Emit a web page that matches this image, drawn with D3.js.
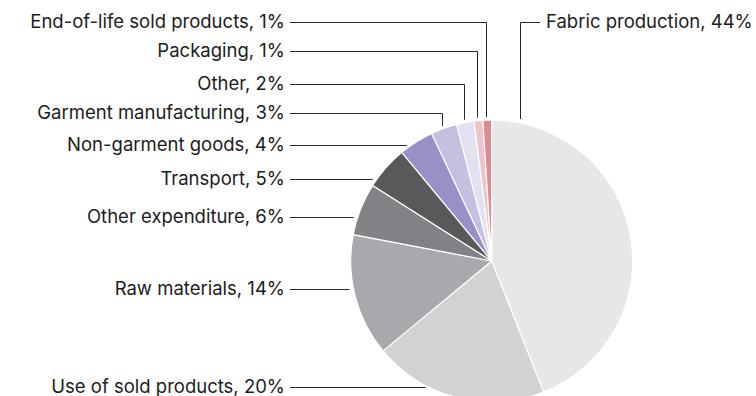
<!DOCTYPE html>
<html>
<head>
<meta charset="utf-8">
<script src="https://cdn.jsdelivr.net/npm/d3@7/dist/d3.min.js"></script>
<style>
  html, body { margin: 0; padding: 0; background: #fff; }
  svg { display: block; }
  text { font-family: Inter, "Noto Sans", sans-serif; font-size: 18.5px; fill: #1c1c1c; }
</style>
</head>
<body>
<svg id="chart" width="756" height="396"></svg>
<script>
// Emissions share by source, in percent (clockwise from 12 o'clock)
const categories = [
  "Fabric production",
  "Use of sold products",
  "Raw materials",
  "Other expenditure",
  "Transport",
  "Non-garment goods",
  "Garment manufacturing",
  "Other",
  "Packaging",
  "End-of-life sold products"
];
const shares = [44, 20, 14, 6, 5, 4, 3, 2, 1, 1];
const colors = [
  "#e6e7e8", "#d1d2d4", "#a7a9ac", "#808285", "#58595b",
  "#9890c6", "#c5c0e0", "#e3e1f0", "#f0c3c8", "#de8b94"
];

// Label placement: "left" labels sit at a row height and run a straight leader to the pie;
// "elbow" labels run across, then drop down to the slice; "right" is the fabric label.
const labelRows = {
  "End-of-life sold products": { kind: "elbow", y: 22 },
  "Packaging": { kind: "elbow", y: 51 },
  "Other": { kind: "elbow", y: 84 },
  "Garment manufacturing": { kind: "elbow", y: 113 },
  "Non-garment goods": { kind: "left", y: 145 },
  "Transport": { kind: "left", y: 179 },
  "Other expenditure": { kind: "left", y: 217 },
  "Raw materials": { kind: "left", y: 289 },
  "Use of sold products": { kind: "left", y: 387 },
  "Fabric production": { kind: "right", y: 22, dropAngle: 0.209 }
};

const svg = d3.select("#chart");
const cx = 491.7, cy = 261, r = 141;
const textRight = 285, lineStart = 290, gap = 4;

// keep 1px leaders on whole pixels so they stay crisp
const snap = v => Math.round(v - 0.5) + 0.5;

const data = categories.map((c, i) => ({ name: c, value: shares[i], color: colors[i] }));

const pie = d3.pie().value(d => d.value).sort(null);
const arc = d3.arc().innerRadius(0).outerRadius(r);
const arcs = pie(data);

const g = svg.append("g").attr("transform", `translate(${cx},${cy})`);
g.selectAll("path")
  .data(arcs)
  .join("path")
  .attr("d", arc)
  .attr("fill", d => d.data.color)
  .attr("stroke", "#fff")
  .attr("stroke-width", 1.2)
  .attr("stroke-linejoin", "round");

const leaders = svg.append("g")
  .attr("fill", "none")
  .attr("stroke", "#262626")
  .attr("stroke-width", 1);
const labels = svg.append("g");

// y of the pie rim above the centre for a given x offset
const rimTop = dx => cy - Math.sqrt(Math.max(0, r * r - dx * dx));

arcs.forEach(a => {
  const spec = labelRows[a.data.name];
  const text = `${a.data.name}, ${a.data.value}%`;
  const mid = (a.startAngle + a.endAngle) / 2;
  const ly = snap(spec.y);
  if (spec.kind === "left") {
    const dy = ly - cy;
    const xEnd = cx - Math.sqrt(r * r - dy * dy) - gap;
    leaders.append("path").attr("d", d3.line()([[lineStart, ly], [xEnd, ly]]));
    labels.append("text").attr("x", textRight).attr("y", ly)
      .attr("text-anchor", "end").attr("dy", "0.3em").text(text);
  } else if (spec.kind === "elbow") {
    const vx = snap(cx + r * Math.sin(mid) - 1);
    const yEnd = rimTop(vx - cx) - 3;
    leaders.append("path").attr("d", d3.line()([[lineStart, ly], [vx, ly], [vx, yEnd]]));
    labels.append("text").attr("x", textRight).attr("y", ly)
      .attr("text-anchor", "end").attr("dy", "0.3em").text(text);
  } else {
    const vx = snap(cx + r * Math.sin(spec.dropAngle));
    const yEnd = rimTop(vx - cx) - 4;
    leaders.append("path").attr("d", d3.line()([[540, ly], [vx, ly], [vx, yEnd]]));
    labels.append("text").attr("x", 546).attr("y", ly)
      .attr("text-anchor", "start").attr("dy", "0.3em").text(text);
  }
});
</script>
</body>
</html>
